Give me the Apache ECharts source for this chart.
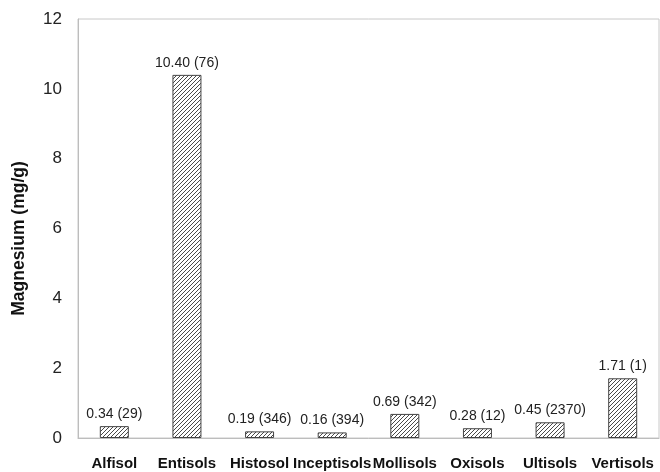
<!DOCTYPE html>
<html><head><meta charset="utf-8">
<script src="https://cdn.jsdelivr.net/npm/echarts@6/dist/echarts.min.js"></script>
<style>html,body{margin:0;padding:0;background:#fff}#c{width:660px;height:472px}</style>
</head><body><div id="c"></div>
<script>
const categories = ['Alfisol','Entisols','Histosol','Inceptisols','Mollisols','Oxisols','Ultisols','Vertisols'];
const magnesium = [0.34, 10.40, 0.19, 0.16, 0.69, 0.28, 0.45, 1.71];
const counts = [29, 76, 346, 394, 342, 12, 2370, 1];
const yTicks = [0, 2, 4, 6, 8, 10, 12];

function hatch(){
  const c = document.createElement('canvas');
  c.width = 4; c.height = 4;
  const g = c.getContext('2d');
  g.fillStyle = '#fff'; g.fillRect(0,0,4,4);
  g.strokeStyle = '#4a4a4a'; g.lineWidth = 1;
  g.beginPath();
  g.moveTo(0,4); g.lineTo(4,0);
  g.moveTo(-1,1); g.lineTo(1,-1);
  g.moveTo(3,5); g.lineTo(5,3);
  g.stroke();
  return c;
}

const chart = echarts.init(document.getElementById('c'), null, {renderer:'canvas'});
chart.setOption({
  animation: false,
  grid: {left: 78, right: 1, top: 19, bottom: 34, show: true, borderColor: '#c8c8c8', borderWidth: 1},
  xAxis: {
    type: 'category', data: categories,
    axisLine: {lineStyle: {color: '#bdbdbd'}}, axisTick: {show: false},
    axisLabel: {fontFamily: 'Liberation Sans, Arial', fontWeight: 'bold', fontSize: 15, color: '#111', margin: 18, interval: 0}
  },
  yAxis: {
    type: 'value', min: yTicks[0], max: yTicks[yTicks.length-1], interval: 2,
    name: 'Magnesium (mg/g)', nameLocation: 'middle', nameGap: 50,
    nameTextStyle: {fontFamily: 'Liberation Sans, Arial', fontWeight: 'bold', fontSize: 17.5, color: '#111', padding: [0, 20, 0, 0]},
    axisLine: {show: true, lineStyle: {color: '#bdbdbd'}}, axisTick: {show: false},
    splitLine: {show: false},
    axisLabel: {fontFamily: 'Liberation Sans, Arial', fontSize: 17, color: '#222', margin: 16}
  },
  series: [{
    type: 'bar', data: magnesium, barWidth: 29,
    itemStyle: {color: {image: hatch(), repeat: 'repeat'}, borderColor: '#444', borderWidth: 1},
    label: {show: true, position: 'top', distance: 5,
      fontFamily: 'Liberation Sans, Arial', fontSize: 14, color: '#222',
      formatter: p => magnesium[p.dataIndex].toFixed(2) + ' (' + counts[p.dataIndex] + ')'}
  }]
});
</script></body></html>
